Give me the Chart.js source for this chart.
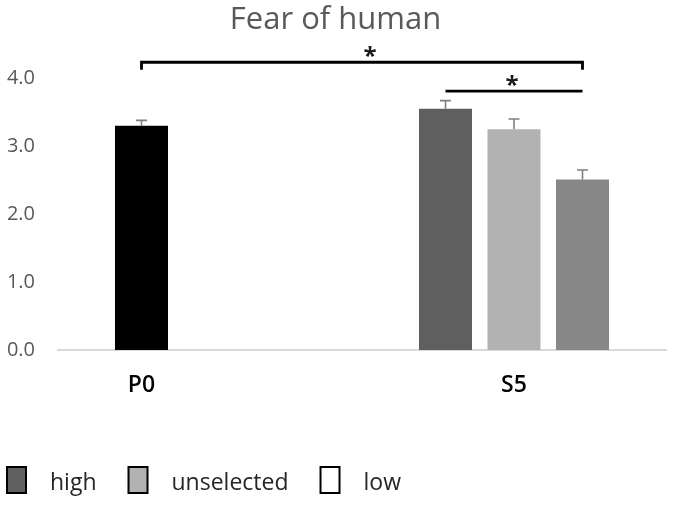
<!DOCTYPE html>
<html>
<head>
<meta charset="utf-8">
<script src="https://cdn.jsdelivr.net/npm/chart.js@4.4.1/dist/chart.umd.min.js"></script>
<style>
  html, body { margin: 0; padding: 0; background: #ffffff; }
  #wrap { width: 675px; height: 506px; position: relative; }
</style>
</head>
<body>
<div id="wrap"><canvas id="c" width="675" height="506"></canvas></div>
<script>
// ---- data ----
const categories = ['P0', 'S5'];
const seriesLabels = ['high', 'unselected', 'low'];
// first slot holds the P0 bar (black) and the S5 "high" bar
const highValues = [3.30, 3.55];
const unselectedValues = [null, 3.25];
const lowValues = [null, 2.51];
const highErrors = [0.08, 0.12];
const unselectedErrors = [null, 0.15];
const lowErrors = [null, 0.14];
const yTickValues = [0, 1, 2, 3, 4];
// significance markers: [datasetIndex, categoryIndex] endpoints, level in axis units
const sigFrom = [[0, 0], [0, 1]];
const sigTo = [[2, 1], [2, 1]];
const sigLevels = [4.235, 3.81];
const sigDrop = [0.11, 0];
const sigText = ['*', '*'];

const FONT = '"Open Sans", "Noto Sans", sans-serif';
const legendColors = ['#5f5f5f', '#b2b2b2', '#ffffff'];
const errorSets = [highErrors, unselectedErrors, lowErrors];
const seriesValues = [highValues, unselectedValues, lowValues];
const CAT_PCT = 0.676;

// place each category label under the centre of the bars it actually has
function categoryLabelPositions() {
  const n = seriesValues.length;
  return categories.map((_, i) => {
    const slots = [];
    seriesValues.forEach((vals, s) => { if (vals[i] != null) slots.push(s); });
    const avg = slots.reduce((a, b) => a + b, 0) / slots.length;
    return i + (avg - (n - 1) / 2) * CAT_PCT / n;
  });
}

const errorBarPlugin = {
  id: 'errorBars',
  afterDatasetsDraw(chart) {
    const ctx = chart.ctx;
    const y = chart.scales.y;
    ctx.save();
    ctx.strokeStyle = '#7f7f7f';
    ctx.lineWidth = 1.6;
    errorSets.forEach((errs, di) => {
      const meta = chart.getDatasetMeta(di);
      const vals = chart.data.datasets[di].data;
      errs.forEach((e, i) => {
        if (e == null || vals[i] == null) return;
        const el = meta.data[i];
        const top = y.getPixelForValue(vals[i] + e);
        ctx.beginPath();
        ctx.moveTo(el.x, el.y);
        ctx.lineTo(el.x, top);
        ctx.moveTo(el.x - 5.5, top);
        ctx.lineTo(el.x + 5.5, top);
        ctx.stroke();
      });
    });
    ctx.restore();
  }
};

const sigPlugin = {
  id: 'sig',
  afterDraw(chart) {
    const ctx = chart.ctx;
    const y = chart.scales.y;
    ctx.save();
    ctx.strokeStyle = '#000000';
    ctx.lineWidth = 2.8;
    ctx.fillStyle = '#1a1a1a';
    ctx.font = 'bold 24px ' + FONT;
    ctx.textAlign = 'center';
    ctx.textBaseline = 'alphabetic';
    sigLevels.forEach((lvl, k) => {
      const a = chart.getDatasetMeta(sigFrom[k][0]).data[sigFrom[k][1]];
      const b = chart.getDatasetMeta(sigTo[k][0]).data[sigTo[k][1]];
      const yy = y.getPixelForValue(lvl);
      ctx.beginPath();
      if (sigDrop[k] > 0) {
        const yd = y.getPixelForValue(lvl - sigDrop[k]);
        ctx.moveTo(a.x, yd);
        ctx.lineTo(a.x, yy);
        ctx.lineTo(b.x, yy);
        ctx.lineTo(b.x, yd);
      } else {
        ctx.moveTo(a.x, yy);
        ctx.lineTo(b.x, yy);
      }
      ctx.stroke();
      ctx.fillText(sigText[k], (a.x + b.x) / 2 + (sigDrop[k] > 0 ? 8 : -2), yy + 2);
    });
    ctx.restore();
  }
};

const legendPlugin = {
  id: 'customLegend',
  afterDraw(chart) {
    const ctx = chart.ctx;
    ctx.save();
    ctx.font = '23px ' + FONT;
    ctx.textBaseline = 'middle';
    ctx.textAlign = 'left';
    let x = 7;
    const yTop = 467, bw = 19, bh = 26;
    seriesLabels.forEach((lab, i) => {
      ctx.fillStyle = legendColors[i];
      ctx.fillRect(x, yTop, bw, bh);
      ctx.strokeStyle = '#000000';
      ctx.lineWidth = 2;
      ctx.strokeRect(x, yTop, bw, bh);
      ctx.fillStyle = '#262626';
      const tx = x + 43;
      ctx.fillText(lab, tx, yTop + bh / 2 + 3);
      x = tx + ctx.measureText(lab).width + 32;
    });
    ctx.restore();
  }
};

new Chart(document.getElementById('c'), {
  type: 'bar',
  data: {
    labels: categories,
    datasets: [
      { label: seriesLabels[0], data: highValues, backgroundColor: ['#000000', '#5f5f5f'] },
      { label: seriesLabels[1], data: unselectedValues, backgroundColor: '#b2b2b2' },
      { label: seriesLabels[2], data: lowValues, backgroundColor: '#878787' }
    ]
  },
  options: {
    responsive: false,
    animation: false,
    devicePixelRatio: 1,
    categoryPercentage: CAT_PCT,
    barPercentage: 0.774,
    layout: { padding: { left: 5, right: 9, top: 0, bottom: 105 } },
    plugins: {
      legend: { display: false },
      tooltip: { enabled: false },
      title: {
        display: true,
        text: 'Fear of human',
        color: '#595959',
        font: { family: FONT, size: 31, weight: 'normal', lineHeight: 1.2 },
        padding: { top: 2, bottom: 39 }
      }
    },
    scales: {
      x: {
        grid: { display: false, drawTicks: false },
        border: { display: true, color: '#d9d9d9', width: 2 },
        afterBuildTicks(scale) {
          scale.ticks = categoryLabelPositions().map(v => ({ value: v }));
        },
        ticks: {
          color: '#000000',
          font: { family: FONT, size: 23, weight: '600' },
          padding: 22,
          callback: (v, i) => categories[i]
        },
        afterFit(scale) { scale.height = 51; }
      },
      y: {
        min: 0,
        max: 4,
        afterBuildTicks(scale) { scale.ticks = yTickValues.map(v => ({ value: v })); },
        grid: { display: false, drawTicks: false },
        border: { display: false },
        ticks: {
          color: '#595959',
          font: { family: FONT, size: 20 },
          padding: 23,
          callback: v => Number(v).toFixed(1)
        },
        afterFit(scale) { scale.width = 53; }
      }
    }
  },
  plugins: [errorBarPlugin, sigPlugin, legendPlugin]
});
</script>
</body>
</html>
